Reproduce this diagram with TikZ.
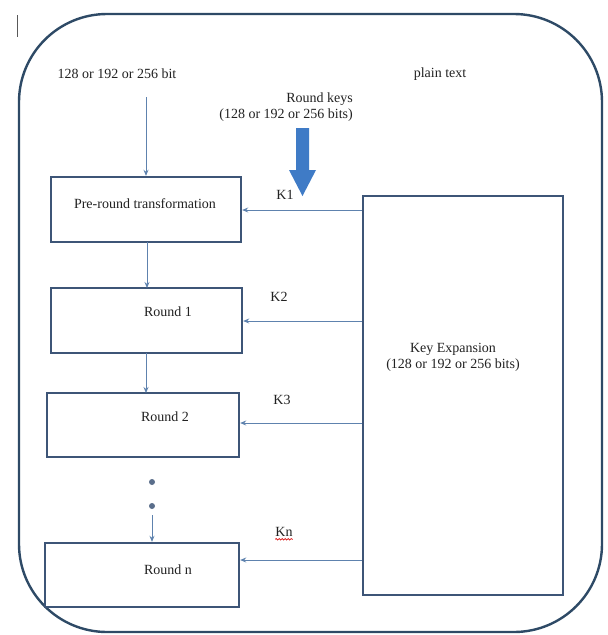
\documentclass[tikz,border=0pt]{standalone}
\usepackage{fontspec}
\setmainfont{Liberation Serif}
\usetikzlibrary{arrows.meta,decorations.pathmorphing}
\definecolor{boxc}{HTML}{3D5577}
\definecolor{outerc}{HTML}{2E4A66}
\definecolor{connc}{HTML}{5E82AE}
\definecolor{bigc}{HTML}{3F7BC6}
\definecolor{txtc}{HTML}{222222}
\tikzset{
  stagebox/.style={draw=boxc,line width=2.4pt,fill=white,inner sep=0pt},
  lbl/.style={text=txtc,font=\fontsize{14}{16}\selectfont,inner sep=0pt,align=center},
  conn/.style={draw=connc,line width=0.9pt,-{Stealth[length=6pt,width=5pt]}},
}
\begin{document}
\begin{tikzpicture}[x=1pt,y=-1pt]
\useasboundingbox (0,0) rectangle (608,635);
\fill[white] (0,0) rectangle (608,635);
% outer rounded frame
\draw[outerc,line width=2.4pt,rounded corners=88pt] (19,14) rectangle (602,632);
% cursor mark
\draw[gray!70!black,line width=1pt] (17,15) -- (17,37);

% boxes
\node[stagebox,minimum width=190pt,minimum height=65pt] (pre) at (146,209.5) {};
\node[stagebox,minimum width=191pt,minimum height=65pt] (r1) at (146.5,320.5) {};
\node[stagebox,minimum width=192pt,minimum height=64pt] (r2) at (143,425) {};
\node[stagebox,minimum width=194pt,minimum height=64pt] (rn) at (142,575) {};
\node[stagebox,minimum width=200pt,minimum height=399pt] (kexp) at (463,395.5) {};

% box texts
\node[lbl] (tpre) at (145,204) {Pre-round transformation};
\node[lbl] (tr1) at (168,312) {Round 1};
\node[lbl] (tr2) at (165,417) {Round 2};
\node[lbl] (trn) at (168,570) {Round n};
\node[lbl] (tkexp) at (453,357) {Key Expansion\\(128 or 192 or 256 bits)};

% top texts
\node[lbl] (tbits) at (117,74) {128 or 192 or 256 bit};
\node[lbl] (tplain) at (440,74) {plain text};
\node[lbl,align=right,anchor=east] (tkeys) at (353,107) {Round keys\\(128 or 192 or 256 bits)};

% big blue arrow
\fill[bigc] (296,128) -- (309,128) -- (309,170) -- (316,170) -- (302.5,196) -- (289,170) -- (296,170) -- cycle;
\coordinate (bigtip) at (302.5,196);

% key labels
\node[lbl] (k1) at (285,195) {K1};
\node[lbl] (k2) at (279,297) {K2};
\node[lbl] (k3) at (282,400) {K3};
\node[lbl] (kn) at (284,532) {Kn};
\draw[red!85!black,line width=0.6pt,decorate,decoration={snake,amplitude=0.8pt,segment length=3pt}] ([yshift=-2.5pt]kn.south west) -- ([yshift=-2.5pt]kn.south east);

% vertical flow
\coordinate (in) at (146,97);
\draw[conn] (in) -- (in |- pre.north);
\draw[conn] (147,242) -- (147,288);
\draw[conn] (146,353) -- (146,393);
\node[circle,fill=boxc!85,inner sep=0pt,minimum size=6pt] (d1) at (152,482) {};
\node[circle,fill=boxc!85,inner sep=0pt,minimum size=6pt] (d2) at (152,506) {};
\coordinate (dn) at (152,515);
\draw[conn] (dn) -- (dn |- rn.north);

% key arrows
\coordinate (y1) at (0,210);
\coordinate (y2) at (0,321);
\coordinate (y3) at (0,423);
\coordinate (yn) at (0,560);
\draw[conn] (kexp.west |- y1) -- (pre.east |- y1);
\draw[conn] (kexp.west |- y2) -- (r1.east |- y2);
\draw[conn] (kexp.west |- y3) -- (r2.east |- y3);
\draw[conn] (kexp.west |- yn) -- (rn.east |- yn);
\end{tikzpicture}
\end{document}
